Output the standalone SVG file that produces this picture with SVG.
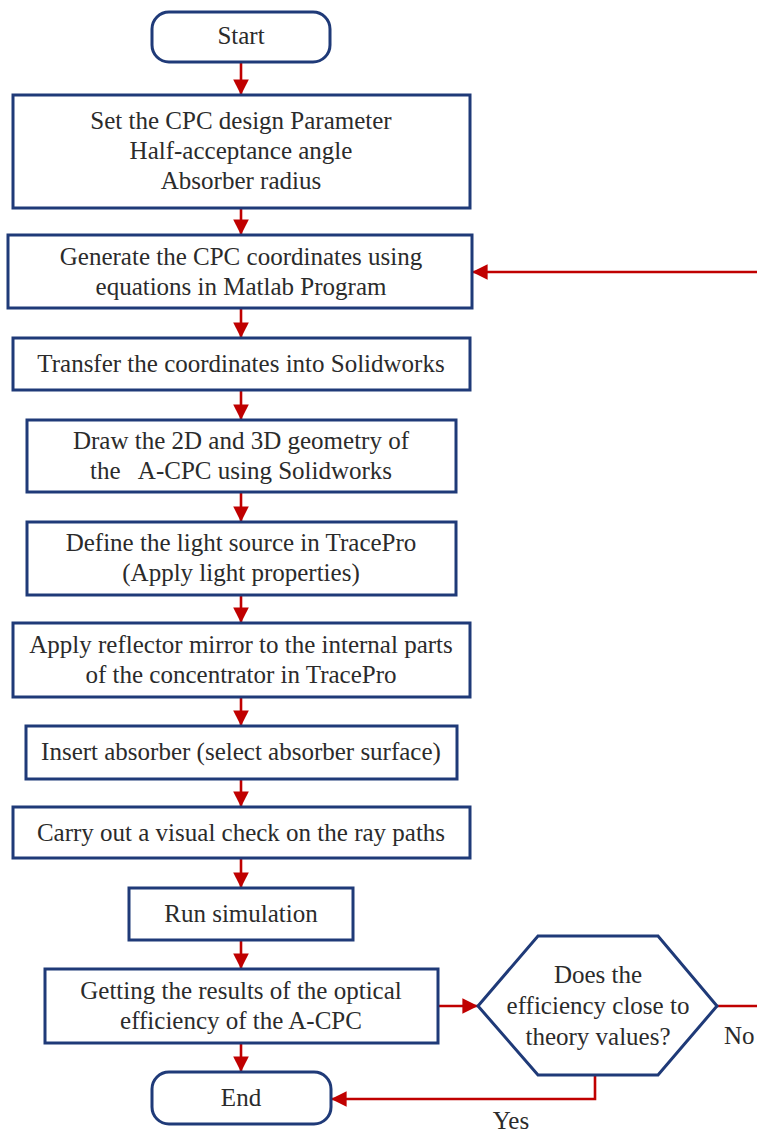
<svg xmlns="http://www.w3.org/2000/svg" width="757" height="1133" viewBox="0 0 757 1133">
  <defs>
    <marker id="arrow" viewBox="0 0 10 10" refX="10" refY="5" markerWidth="6" markerHeight="6" markerUnits="strokeWidth" orient="auto">
      <path d="M0,0 L10,5 L0,10 Z" fill="#C00000"/>
    </marker>
    <style>
      .node { fill: #ffffff; stroke: #1F3A78; stroke-width: 3; }
      .label { font-family: "Liberation Serif", "Times New Roman", serif; font-size: 25px; fill: #2b2b2b; text-anchor: middle; }
      .edge { fill: none; stroke: #C00000; stroke-width: 2.6; }
      .arrowed { marker-end: url(#arrow); }
    </style>
  </defs>
  <rect width="757" height="1133" fill="#ffffff"/>

  <g id="connectors">
    <line class="edge arrowed" x1="241" y1="62" x2="241" y2="95"/>
    <line class="edge arrowed" x1="241" y1="208" x2="241" y2="235"/>
    <line class="edge arrowed" x1="241" y1="308" x2="241" y2="338"/>
    <line class="edge arrowed" x1="241" y1="390" x2="241" y2="420"/>
    <line class="edge arrowed" x1="241" y1="492" x2="241" y2="522"/>
    <line class="edge arrowed" x1="241" y1="595" x2="241" y2="623"/>
    <line class="edge arrowed" x1="241" y1="697" x2="241" y2="726"/>
    <line class="edge arrowed" x1="241" y1="779" x2="241" y2="807"/>
    <line class="edge arrowed" x1="241" y1="858" x2="241" y2="888"/>
    <line class="edge arrowed" x1="241" y1="940" x2="241" y2="969"/>
    <line class="edge arrowed" x1="241" y1="1043" x2="241" y2="1072"/>
    <line class="edge arrowed" x1="438" y1="1006" x2="478" y2="1006"/>
    <!-- "No" branch leaves to the right and returns into the coordinate step -->
    <line class="edge" x1="717" y1="1006" x2="757" y2="1006"/>
    <line class="edge arrowed" x1="757" y1="272" x2="472" y2="272"/>
    <!-- "Yes" branch -->
    <polyline class="edge arrowed" points="595,1075 595,1099 331,1099"/>
  </g>

  <g id="start">
    <rect class="node" x="152" y="12" width="178" height="50" rx="17"/>
    <text class="label" x="241" y="44">Start</text>
  </g>

  <g id="set-parameters">
    <rect class="node" x="13" y="95" width="457" height="113"/>
    <text class="label" x="241" y="129">Set the CPC design Parameter</text>
    <text class="label" x="241" y="159">Half-acceptance angle</text>
    <text class="label" x="241" y="189">Absorber radius</text>
  </g>

  <g id="generate-coordinates">
    <rect class="node" x="8" y="235" width="464" height="73"/>
    <text class="label" x="241" y="265">Generate the CPC coordinates using</text>
    <text class="label" x="241" y="295">equations in Matlab Program</text>
  </g>

  <g id="transfer">
    <rect class="node" x="13" y="338" width="457" height="52"/>
    <text class="label" x="241" y="372">Transfer the coordinates into Solidworks</text>
  </g>

  <g id="draw-geometry">
    <rect class="node" x="27" y="420" width="429" height="72"/>
    <text class="label" x="241" y="449">Draw the 2D and 3D geometry of</text>
    <text class="label" x="241" y="479" xml:space="preserve">the   A-CPC using Solidworks</text>
  </g>

  <g id="light-source">
    <rect class="node" x="27" y="522" width="429" height="73"/>
    <text class="label" x="241" y="551">Define the light source in TracePro</text>
    <text class="label" x="241" y="581">(Apply light properties)</text>
  </g>

  <g id="reflector">
    <rect class="node" x="13" y="623" width="457" height="74"/>
    <text class="label" x="241" y="653">Apply reflector mirror to the internal parts</text>
    <text class="label" x="241" y="683">of the concentrator in TracePro</text>
  </g>

  <g id="absorber">
    <rect class="node" x="26" y="726" width="431" height="53"/>
    <text class="label" x="241" y="760">Insert absorber (select absorber surface)</text>
  </g>

  <g id="visual-check">
    <rect class="node" x="13" y="807" width="457" height="51"/>
    <text class="label" x="241" y="841">Carry out a visual check on the ray paths</text>
  </g>

  <g id="run-simulation">
    <rect class="node" x="129" y="888" width="224" height="52"/>
    <text class="label" x="241" y="922">Run simulation</text>
  </g>

  <g id="results">
    <rect class="node" x="45" y="969" width="393" height="74"/>
    <text class="label" x="241" y="999">Getting the results of the optical</text>
    <text class="label" x="241" y="1029">efficiency of the A-CPC</text>
  </g>

  <g id="decision">
    <polygon class="node" points="478,1006 538,936 658,936 717,1006 658,1075 538,1075"/>
    <text class="label" x="598" y="983">Does the</text>
    <text class="label" x="598" y="1014">efficiency close to</text>
    <text class="label" x="598" y="1045">theory values?</text>
  </g>

  <g id="end">
    <rect class="node" x="152" y="1072" width="179" height="52" rx="17"/>
    <text class="label" x="241" y="1106">End</text>
  </g>

  <g id="branch-labels">
    <text class="label" x="724" y="1044" style="text-anchor: start">No</text>
    <text class="label" x="511" y="1129">Yes</text>
  </g>
</svg>
